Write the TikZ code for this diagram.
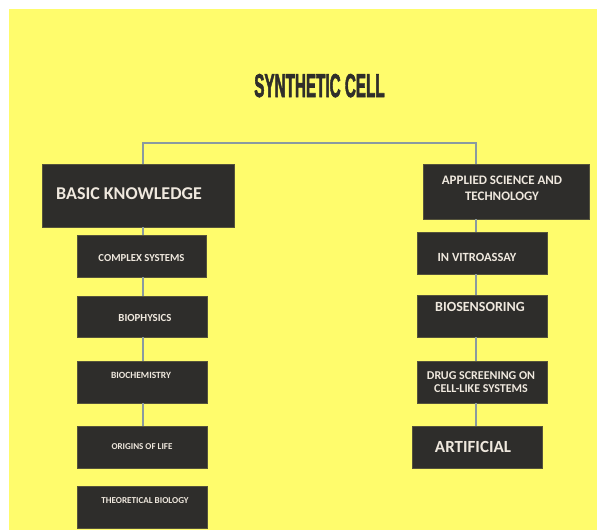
\documentclass[tikz,border=0pt]{standalone}
\usepackage{fontspec}
\setmainfont{Carlito}
\newfontfamily\titlefont[FakeBold=2.5]{Liberation Sans}
\definecolor{bgyellow}{HTML}{FFFC6C}
\definecolor{boxfill}{HTML}{2E2D2B}
\definecolor{boxedge}{HTML}{55533A}
\definecolor{boxtext}{HTML}{EFE8DE}
\definecolor{linkcol}{HTML}{8A9AA0}
\definecolor{titlecol}{HTML}{2F2E2A}
\tikzset{
  card/.style={rectangle, fill=boxfill, draw=boxedge, line width=0.6pt, inner sep=0pt},
  cardtext/.style={text=boxtext, font=\bfseries, align=center, inner sep=0pt},
  link/.style={draw=linkcol, line width=2pt},
}
\newcommand{\fs}[1]{\fontsize{#1}{#1}\selectfont}
\begin{document}
\begin{tikzpicture}[x=1pt,y=-1pt]
\useasboundingbox (0,0) rectangle (597,530);
\fill[white] (0,0) rectangle (597,530);
\fill[bgyellow] (9,9) rectangle (597,530);

\node[anchor=base, text=titlecol, inner sep=0pt, xscale=0.5, yscale=1.08] (title) at (319.5,97)
  {\titlefont\bfseries\fs{30.5}SYNTHETIC CELL};

% left column
\node[card, minimum width=192, minimum height=63,
  label={[cardtext, shift={(-9,-1.5)}]center:\fs{18}BASIC KNOWLEDGE}] (basic) at (138,195.5) {};
\node[card, minimum width=129, minimum height=42,
  label={[cardtext, shift={(0,2)}]center:\fs{10.7}COMPLEX SYSTEMS}] (cs) at (141.5,256) {};
\node[card, minimum width=130, minimum height=41,
  label={[cardtext, shift={(3,1.5)}]center:\fs{10.8}BIOPHYSICS}] (bp) at (142,316.5) {};
\node[card, minimum width=130, minimum height=42,
  label={[cardtext, shift={(-1,-7)}]center:\fs{9.5}BIOCHEMISTRY}] (bc) at (142,382) {};
\node[card, minimum width=130, minimum height=42,
  label={[cardtext, shift={(0,0)}]center:\fs{9}ORIGINS OF LIFE}] (ol) at (142,447) {};
\node[card, minimum width=130, minimum height=42,
  label={[cardtext, shift={(3,-6)}]center:\fs{9.1}THEORETICAL BIOLOGY}] (tb) at (142,507) {};

% right column
\node[card, minimum width=166, minimum height=55,
  label={[cardtext, shift={(-4,-1.5)}]center:\fs{13}\begin{tabular}{@{}c@{}}APPLIED SCIENCE AND\\[3pt]TECHNOLOGY\end{tabular}}] (applied) at (506,191.5) {};
\node[card, minimum width=130, minimum height=42,
  label={[cardtext, shift={(-5,4)}]center:\fs{12.5}IN VITROASSAY}] (iv) at (482,253) {};
\node[card, minimum width=130, minimum height=42,
  label={[cardtext, shift={(-2,-9)}]center:\fs{14}BIOSENSORING}] (bs) at (482,316) {};
\node[card, minimum width=130, minimum height=42,
  label={[cardtext, shift={(-1,2)}]center:\fs{12}\begin{tabular}{@{}c@{}}DRUG SCREENING ON\\[1pt]CELL-LIKE SYSTEMS\end{tabular}}] (ds) at (482,382) {};
\node[card, minimum width=130, minimum height=42,
  label={[cardtext, shift={(-4,0)}]center:\fs{17}ARTIFICIAL}] (ar) at (477,447) {};

% connectors
\coordinate (jl) at (143,143);
\coordinate (jr) at (476,143);
\draw[link] (basic.north -| jl) -- (jl) -- (jr) -- (applied.north -| jr);
\draw[link] (basic.south -| jl) -- (cs.north -| jl);
\draw[link] (cs.south -| jl) -- (bp.north -| jl);
\draw[link] (bp.south -| jl) -- (bc.north -| jl);
\draw[link] (bc.south -| jl) -- (ol.north -| jl);
\draw[link] (applied.south -| jr) -- (iv.north -| jr);
\draw[link] (iv.south -| jr) -- (bs.north -| jr);
\draw[link] (bs.south -| jr) -- (ds.north -| jr);
\draw[link] (ds.south -| jr) -- (ar.north -| jr);
\end{tikzpicture}
\end{document}
